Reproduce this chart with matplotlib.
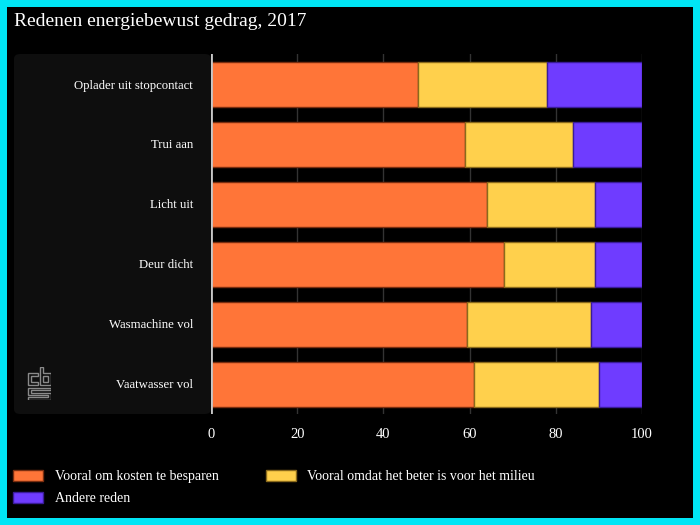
import matplotlib
matplotlib.use("Agg")
import matplotlib.pyplot as plt
import numpy as np
from matplotlib.patches import Rectangle, FancyBboxPatch, Polygon

# data (percentages)
categories = ["Oplader uit stopcontact", "Trui aan", "Licht uit", "Deur dicht",
              "Wasmachine vol", "Vaatwasser vol"]
kosten = [48.0, 59.0, 64.0, 68.0, 59.5, 61.0]
milieu = [30.0, 25.0, 25.0, 21.0, 28.6, 29.0]
andere = [22.0, 16.0, 11.0, 11.0, 11.9, 10.0]
series_names = ["Vooral om kosten te besparen", "Vooral omdat het beter is voor het milieu",
                "Andere reden"]
xticks = [0, 20, 40, 60, 80, 100]

colors = ["#ff7538", "#ffd04c", "#6f3cff"]
edges = ["#7a2e10", "#8a6a1c", "#3a1c99"]
serif = ["Liberation Serif", "DejaVu Serif"]

W, H = 700, 525
fig = plt.figure(figsize=(7, 5.25), dpi=100, facecolor="#00e5f5")

def px(x, y):
    # pixel (top-left origin) -> figure fraction
    return x / W, 1 - y / H

# black inner area
fig.patches.append(Rectangle((7 / W, 7 / H), (W - 14) / W, (H - 14) / H,
                             transform=fig.transFigure, facecolor="black",
                             edgecolor="none", zorder=-2))
# label panel
x0, y0 = px(14, 414)
fig.patches.append(FancyBboxPatch((x0, y0), (211 - 14) / W, (414 - 54) / H,
                                  boxstyle="round,pad=0,rounding_size=0.009",
                                  transform=fig.transFigure, facecolor="#0e0e0e",
                                  edgecolor="none", zorder=-1))

fig.text(14 / W, 1 - 21 / H, "Redenen energiebewust gedrag, 2017", color="white",
         fontsize=14, family=serif, va="center", ha="left")

left, bottom = px(211, 414)
ax = fig.add_axes([left, bottom, (642 - 211) / W, (414 - 54) / H])
ax.set_facecolor("none")
ax.set_zorder(2)

y = np.arange(len(categories))
lefts = np.zeros(len(categories))
handles = []
for vals, c, e, name in zip([kosten, milieu, andere], colors, edges, series_names):
    b = ax.barh(y, vals, left=lefts, height=0.75, color=c, edgecolor=e,
                linewidth=1, label=name, zorder=3)
    handles.append(b)
    lefts = lefts + np.array(vals)

ax.set_xlim(0, 100)
ax.set_ylim(len(categories) - 0.5, -0.5)
ax.set_xticks(xticks)
ax.set_xticklabels([str(t) for t in xticks], color="white", fontsize=10.5, family=serif)
ax.set_yticks(y)
ax.set_yticklabels(categories, color="white", fontsize=9.2, family=serif)
ax.tick_params(axis="both", length=0)
ax.tick_params(axis="y", pad=13)
ax.tick_params(axis="x", pad=10)
for t in xticks[1:]:
    ax.axvline(t, color="#333333", lw=1, zorder=1)
ax.axvline(0, color="#c8c8c8", lw=2, zorder=4)
for s in ax.spines.values():
    s.set_visible(False)

# CBS logo (outline)
lax = fig.add_axes([27 / W, 1 - 400 / H, 24 / W, 33 / H])
lax.set_zorder(2)
lax.set_xlim(-0.5, 23.5)
lax.set_ylim(33.5, -0.5)
lax.axis("off")
shapes = [
    [(10, 6), (0, 6), (0, 18), (10, 18), (10, 15), (3, 15), (3, 9), (10, 9)],
    [(12, 0), (15, 0), (15, 6), (23, 6), (23, 18), (12, 18)],
    [(15, 9), (20, 9), (20, 15), (15, 15)],
    [(23, 21), (0, 21), (0, 28.5), (20, 28.5), (20, 30.5), (0, 30.5), (0, 33),
     (23, 33), (23, 26), (3, 26), (3, 23.5), (23, 23.5)],
]
for pts in shapes:
    lax.add_patch(Polygon(pts, closed=True, facecolor="none", edgecolor="#8a8a8a", lw=1))

leg = fig.legend([handles[0], handles[2], handles[1]],
                 [series_names[0], series_names[2], series_names[1]],
                 ncol=2, loc="upper left", bbox_to_anchor=(13 / W, 1 - 470 / H),
                 frameon=False, prop={"family": serif, "size": 10},
                 labelcolor="white", handlelength=2.15, handleheight=0.85,
                 handletextpad=0.85, columnspacing=3.4, labelspacing=0.6,
                 borderaxespad=0, borderpad=0)

fig.savefig("out.png", dpi=100, facecolor=fig.get_facecolor())
